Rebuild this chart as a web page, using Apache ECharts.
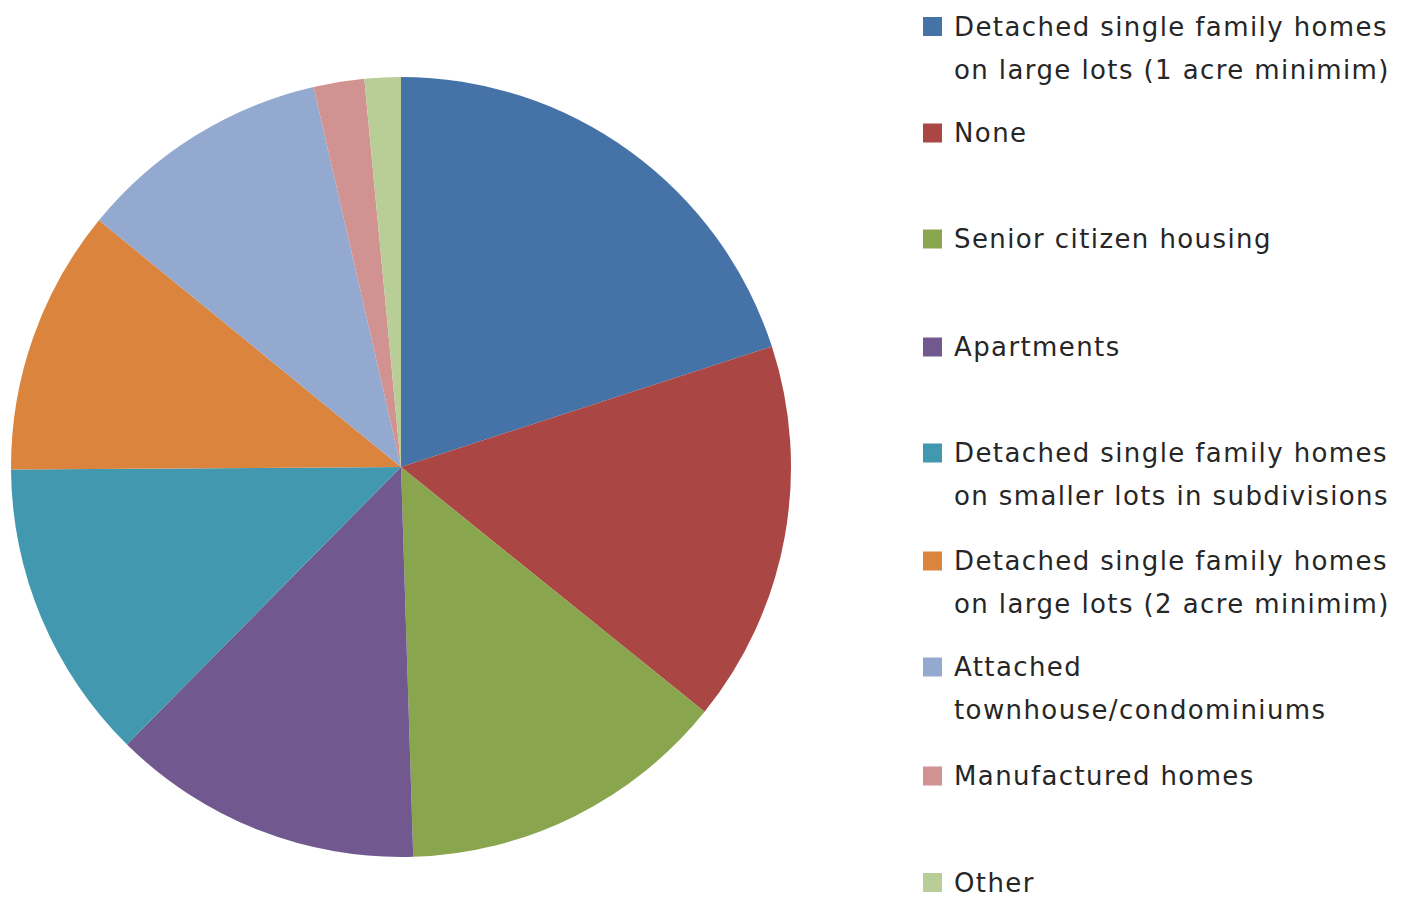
<!DOCTYPE html>
<html>
<head>
<meta charset="utf-8">
<title>Housing types</title>
<script src="https://cdn.jsdelivr.net/npm/echarts@6/dist/echarts.min.js"></script>
<style>
  html, body { margin: 0; padding: 0; background: #ffffff; }
  #chart { width: 1407px; height: 899px; }
  /* slightly airy legend lettering */
  #chart svg text { letter-spacing: 1.4px; }
</style>
</head>
<body>
<div id="chart"></div>
<script>
// Housing types (share of responses, %)
const categories = [
  'Detached single family homes on large lots (1 acre minimim)',
  'None',
  'Senior citizen housing',
  'Apartments',
  'Detached single family homes on smaller lots in subdivisions',
  'Detached single family homes on large lots (2 acre minimim)',
  'Attached townhouse/condominiums',
  'Manufactured homes',
  'Other'
];
const values = [20.0, 15.8, 13.7, 12.9, 12.5, 11.0, 10.5, 2.1, 1.5];

// How each legend entry wraps onto lines
const legendLines = [
  ['Detached single family homes', 'on large lots (1 acre minimim)'],
  ['None'],
  ['Senior citizen housing'],
  ['Apartments'],
  ['Detached single family homes', 'on smaller lots in subdivisions'],
  ['Detached single family homes', 'on large lots (2 acre minimim)'],
  ['Attached', 'townhouse/condominiums'],
  ['Manufactured homes'],
  ['Other']
];

const colors = ['#4572A7', '#AA4643', '#89A54E', '#71588F', '#4198AF',
                '#DB843D', '#93A9CF', '#D19392', '#B9CD96'];

const markerCenters = [27.5, 134, 240, 348, 454, 562, 668, 777, 883.5];
const LINE_H = 43;
const TEXT_PAD_BOTTOM = 4;

const legends = categories.map((name, i) => {
  const lines = legendLines[i];
  const multi = lines.length > 1;
  // a blank line above keeps the first line level with the marker
  const text = multi ? ' \n' + lines.join('\n') : lines[0];
  const blockH = (multi ? 3 : 1) * LINE_H + TEXT_PAD_BOTTOM;
  return {
    data: [name],
    orient: 'vertical',
    left: 923,
    top: markerCenters[i] - blockH / 2 - 1,
    padding: 0,
    itemWidth: 19,
    itemHeight: 19,
    icon: 'rect',
    selectedMode: false,
    formatter: () => text,
    textStyle: {
      fontFamily: 'DejaVu Sans',
      fontSize: 26,
      color: '#262626',
      lineHeight: LINE_H,
      padding: [0, 0, TEXT_PAD_BOTTOM, 7]
    }
  };
});

const chart = echarts.init(document.getElementById('chart'), null, { renderer: 'svg' });
chart.setOption({
  animation: false,
  color: colors,
  legend: legends,
  series: [{
    type: 'pie',
    center: [401, 467],
    radius: 390,
    startAngle: 90,
    clockwise: true,
    avoidLabelOverlap: false,
    label: { show: false },
    labelLine: { show: false },
    itemStyle: { borderWidth: 0 },
    emphasis: { disabled: true },
    data: categories.map((name, i) => ({ name, value: values[i] }))
  }]
});
</script>
</body>
</html>
